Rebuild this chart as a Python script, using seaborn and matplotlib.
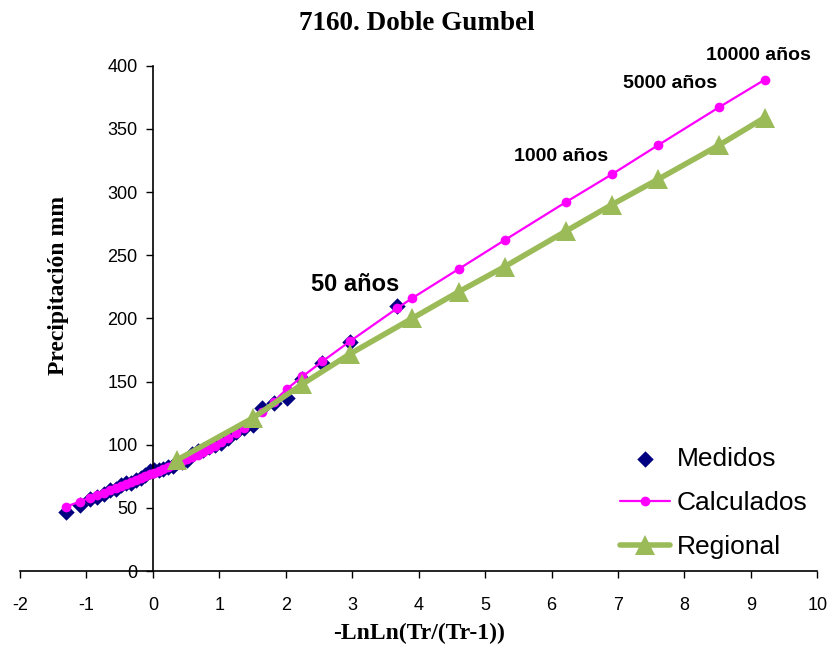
import matplotlib
matplotlib.use("Agg")
import matplotlib.pyplot as plt
import seaborn as sns

# reduced variate -LnLn(Tr/(Tr-1)) of the measured series
x_med = [-1.305, -1.097, -0.952, -0.834, -0.732, -0.640, -0.556, -0.476, -0.400, -0.327,
         -0.255, -0.186, -0.117, -0.049, 0.019, 0.087, 0.156, 0.225, 0.295, 0.366,
         0.439, 0.514, 0.592, 0.672, 0.755, 0.842, 0.934, 1.031, 1.135, 1.246,
         1.367, 1.500, 1.648, 1.817, 2.013, 2.250, 2.552, 2.970, 3.676]
y_med = [47, 52, 57, 59, 61, 64, 65, 68, 70, 70,
         72, 74, 76, 79, 80, 80, 81, 82, 83, 86,
         86, 88, 93, 95, 96, 98, 100, 101, 105, 110,
         113, 116, 129, 133, 137, 152, 165, 181, 210]

# doble Gumbel fit (measured positions + return periods)
x_calc = x_med + [3.902, 4.600, 5.296, 6.214, 6.907, 7.600, 8.517, 9.210]
y_calc = [51, 55, 58, 60, 62, 64, 66, 67.5, 69, 70.5,
          72, 73.5, 75, 76.5, 78, 79.5, 81, 82.5, 84, 85.5,
          87, 88.5, 90, 92, 94, 96.5, 99, 102, 105, 109,
          113, 119, 126, 134, 144, 154, 166, 182, 208,
          216, 239, 262, 292, 314, 337, 367, 389]

# regional curve, Tr = 2, 5, 10, 20, 50, 100, 200, 500, 1000, 2000, 5000, 10000
x_reg = [0.367, 1.500, 2.250, 2.970, 3.902, 4.600, 5.296, 6.214, 6.907, 7.600, 8.517, 9.210]
y_reg = [88, 121, 148, 172, 200, 221, 241, 269, 290, 310, 337, 359]

etiquetas = ["50 años", "1000 años", "5000 años", "10000 años"]
etq_x = [3.04, 6.14, 7.79, 9.11]
etq_y = [227, 328, 386, 408]

sns.set_style("white")
plt.rcParams["font.family"] = ["Liberation Sans", "DejaVu Sans"]
plt.rcParams["axes.unicode_minus"] = False
for k in ("text.color", "axes.labelcolor", "xtick.color", "ytick.color"):
    plt.rcParams[k] = "black"

fig = plt.figure(figsize=(8.34, 6.64), dpi=100)
ax = fig.add_axes([0.024, 0.140, 0.956, 0.761])

sns.scatterplot(x=x_med, y=y_med, marker="D", s=70, color="#000080",
                edgecolor="#000080", linewidth=0, label="Medidos", ax=ax, zorder=2)
sns.lineplot(x=x_calc, y=y_calc, sort=False, color="#FF00FF", lw=1.6, marker="o",
             markersize=7, markeredgewidth=0, label="Calculados", ax=ax, zorder=3)
sns.lineplot(x=x_reg, y=y_reg, sort=False, color="#9BBB59", lw=4, marker="^",
             markersize=15, markeredgewidth=0, label="Regional", ax=ax, zorder=4)

ax.set_xlim(-2, 10)
ax.set_ylim(0, 400)
ax.set_xticks(range(-2, 11))
ax.set_yticks(range(0, 401, 50))
ax.spines["left"].set_position(("data", 0))
ax.spines["right"].set_visible(False)
ax.spines["top"].set_visible(False)
for s in ("left", "bottom"):
    ax.spines[s].set_color("black")
    ax.spines[s].set_linewidth(1.2)
ax.tick_params(axis="both", labelsize=13, length=5, width=1, color="black",
               direction="out", left=True, bottom=True)
ax.tick_params(axis="x", pad=14)
ax.tick_params(axis="y", pad=6)

ax.set_xlabel("-LnLn(Tr/(Tr-1))", fontsize=17, fontweight="bold",
              family=["Liberation Serif", "DejaVu Serif"], labelpad=6)
ax.set_ylabel("")
fig.text(0.07, 0.57, "Precipitación mm", rotation=90, ha="center", va="center",
         fontsize=17, fontweight="bold", family=["Liberation Serif", "DejaVu Serif"])
fig.text(0.5, 0.965, "7160. Doble Gumbel", ha="center", va="center",
         fontsize=19.5, fontweight="bold", family=["Liberation Serif", "DejaVu Serif"])

for i, t in enumerate(etiquetas):
    size = 17 if i == 0 else 14
    ax.text(etq_x[i], etq_y[i], t, ha="center", va="center", fontsize=size,
            fontweight="bold", clip_on=False)

ax.legend(loc="upper left", bbox_to_anchor=(0.715, 0.362), bbox_transform=fig.transFigure,
          frameon=False, fontsize=19, labelspacing=0.76, handlelength=1.9,
          handletextpad=0.25)

fig.savefig("out.png", dpi=100)
